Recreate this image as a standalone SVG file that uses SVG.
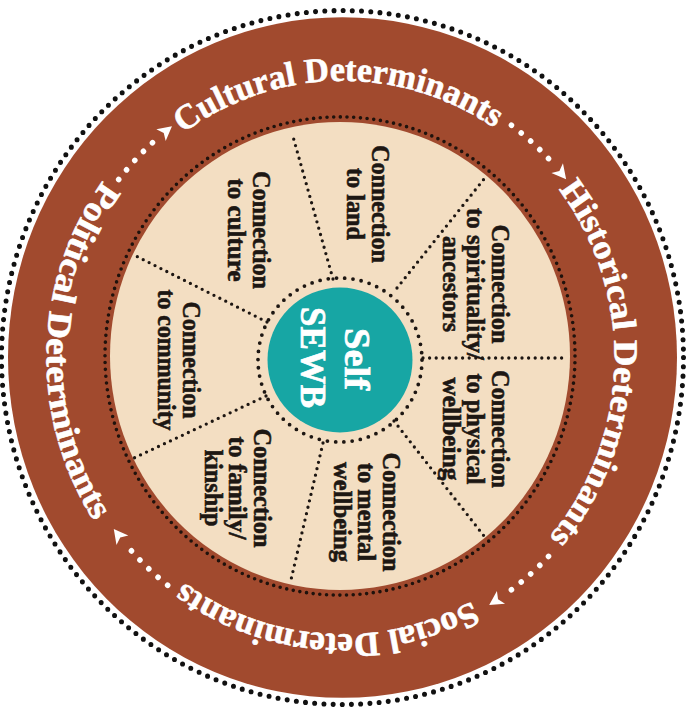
<svg xmlns="http://www.w3.org/2000/svg" width="693" height="720" viewBox="0 0 693 720">
<style>
.sp{stroke:#1d1612;stroke-width:3.3;stroke-linecap:round;stroke-dasharray:0 6.6;fill:none}
.lbl{font-family:"Liberation Serif","DejaVu Serif",serif;font-weight:bold;font-size:25px;fill:#1d1713;stroke:#1d1713;stroke-width:0.6;text-anchor:middle}
.det{font-family:"Liberation Serif","DejaVu Serif",serif;font-weight:bold;font-size:34px;fill:#ffffff;stroke:#ffffff;stroke-width:0.6}
.self{font-family:"Liberation Serif","DejaVu Serif",serif;font-weight:bold;font-size:36px;fill:#ffffff;stroke:#ffffff;stroke-width:0.7;text-anchor:middle}
</style>
<defs>
<path id="cw" d="M-272,0 A272,272 0 1 1 272,0 A272,272 0 1 1 -272,0"/>
<path id="ccw" d="M0,-296 A296,296 0 1 0 0,296 A296,296 0 1 0 0,-296"/>
<circle id="wdot" cx="0" cy="-284" r="2.8" fill="#ffffff"/>
<path id="ahead" d="M8,-284 L-6,-291.5 L-2.5,-284 L-6,-276.5 Z" fill="#ffffff"/>
</defs>
<rect width="693" height="720" fill="#ffffff"/>
<g id="outer-ring" transform="translate(342.5 357.5) scale(1 1.0175)">
<circle r="341" fill="none" stroke="#111111" stroke-width="5" stroke-linecap="round" stroke-dasharray="0 9.2352"/>
<circle r="334.5" fill="#a14a2e"/>
</g>
<g id="inner-disc" transform="translate(340 356) scale(1 1.0175)">
<circle r="235" fill="none" stroke="#1f120c" stroke-width="3.6" stroke-linecap="round" stroke-dasharray="0 6.711"/>
<circle r="230" fill="#f3dec2"/>
</g>
<g id="determinants" transform="translate(342.5 357.5) scale(1 1.0175)">
<g id="cultural"><text class="det"><textPath href="#cw" startOffset="256.4" textLength="332" lengthAdjust="spacingAndGlyphs">Cultural Determinants</textPath></text></g>
<g id="historical"><text class="det"><textPath href="#cw" startOffset="676.5" textLength="370" lengthAdjust="spacingAndGlyphs">Historical Determinants</textPath></text></g>
<g id="social"><text class="det"><textPath href="#cw" startOffset="1146.5" textLength="304" lengthAdjust="spacingAndGlyphs">Social Determinants</textPath></text></g>
<g id="political"><text class="det"><textPath href="#ccw" startOffset="279" textLength="356" lengthAdjust="spacingAndGlyphs">Political Determinants</textPath></text></g>
</g>
<g id="connectors">
<g id="cycle-arrows" transform="translate(342.5 357.5) scale(1 1.0175)">
<use href="#wdot" transform="rotate(308)"/><use href="#wdot" transform="rotate(310.5)"/><use href="#wdot" transform="rotate(313)"/><use href="#wdot" transform="rotate(315.5)"/><use href="#wdot" transform="rotate(318)"/><use href="#ahead" transform="rotate(321.5)"/>
<use href="#wdot" transform="rotate(36.5)"/><use href="#wdot" transform="rotate(39)"/><use href="#wdot" transform="rotate(41.5)"/><use href="#wdot" transform="rotate(44)"/><use href="#wdot" transform="rotate(46.5)"/><use href="#ahead" transform="rotate(50.3)"/>
<use href="#wdot" transform="rotate(133.5)"/><use href="#wdot" transform="rotate(136)"/><use href="#wdot" transform="rotate(138.5)"/><use href="#wdot" transform="rotate(141)"/><use href="#wdot" transform="rotate(143.5)"/><use href="#ahead" transform="rotate(147.3)"/>
<use href="#wdot" transform="rotate(218)"/><use href="#wdot" transform="rotate(220.5)"/><use href="#wdot" transform="rotate(223)"/><use href="#wdot" transform="rotate(225.5)"/><use href="#wdot" transform="rotate(228)"/><use href="#ahead" transform="rotate(232)"/>
</g>
<g id="spokes">
<line class="sp" x1="333" y1="279" x2="292" y2="133"/>
<line class="sp" x1="397" y1="288" x2="484" y2="179"/>
<line class="sp" x1="423" y1="358" x2="566" y2="358"/>
<line class="sp" x1="394" y1="421" x2="484" y2="536"/>
<line class="sp" x1="323" y1="443" x2="290" y2="584"/>
<line class="sp" x1="266" y1="396" x2="134" y2="458"/>
<line class="sp" x1="267" y1="322" x2="134" y2="255"/>
</g>
</g>
<g id="self-sewb">
<circle cx="340" cy="360" r="82" fill="none" stroke="#1d1612" stroke-width="3.8" stroke-linecap="round" stroke-dasharray="0 8.31"/>
<circle cx="340" cy="360" r="72.5" fill="#17a6a4"/>
<g transform="rotate(90)" class="self">
<text x="359" y="-345" textLength="62" lengthAdjust="spacingAndGlyphs">Self</text>
<text x="357.5" y="-301" textLength="101" lengthAdjust="spacingAndGlyphs">SEWB</text>
</g>
</g>
<g id="land" transform="rotate(90)" class="lbl">
<text x="204" y="-372" textLength="118" lengthAdjust="spacingAndGlyphs">Connection</text>
<text x="204" y="-347" textLength="72" lengthAdjust="spacingAndGlyphs">to land</text>
</g>
<g id="spirituality" transform="rotate(90)" class="lbl">
<text x="284" y="-492" textLength="119" lengthAdjust="spacingAndGlyphs">Connection</text>
<text x="284" y="-467" textLength="152" lengthAdjust="spacingAndGlyphs">to spirituality/</text>
<text x="284" y="-443" textLength="96" lengthAdjust="spacingAndGlyphs">ancestors</text>
</g>
<g id="physical" transform="rotate(90)" class="lbl">
<text x="429" y="-492" textLength="118" lengthAdjust="spacingAndGlyphs">Connection</text>
<text x="429" y="-467" textLength="111" lengthAdjust="spacingAndGlyphs">to physical</text>
<text x="429" y="-443" textLength="103" lengthAdjust="spacingAndGlyphs">wellbeing</text>
</g>
<g id="mental" transform="rotate(90)" class="lbl">
<text x="512" y="-383" textLength="119" lengthAdjust="spacingAndGlyphs">Connection</text>
<text x="512" y="-358" textLength="98" lengthAdjust="spacingAndGlyphs">to mental</text>
<text x="512" y="-334" textLength="100" lengthAdjust="spacingAndGlyphs">wellbeing</text>
</g>
<g id="family" transform="rotate(90)" class="lbl">
<text x="488" y="-254" textLength="119" lengthAdjust="spacingAndGlyphs">Connection</text>
<text x="488" y="-229" textLength="103" lengthAdjust="spacingAndGlyphs">to family/</text>
<text x="488" y="-205" textLength="77" lengthAdjust="spacingAndGlyphs">kinship</text>
</g>
<g id="community" transform="rotate(90)" class="lbl">
<text x="360" y="-183" textLength="117" lengthAdjust="spacingAndGlyphs">Connection</text>
<text x="360" y="-158" textLength="141" lengthAdjust="spacingAndGlyphs">to community</text>
</g>
<g id="culture" transform="rotate(90)" class="lbl">
<text x="230" y="-253" textLength="118" lengthAdjust="spacingAndGlyphs">Connection</text>
<text x="230" y="-228" textLength="103" lengthAdjust="spacingAndGlyphs">to culture</text>
</g>
</svg>
